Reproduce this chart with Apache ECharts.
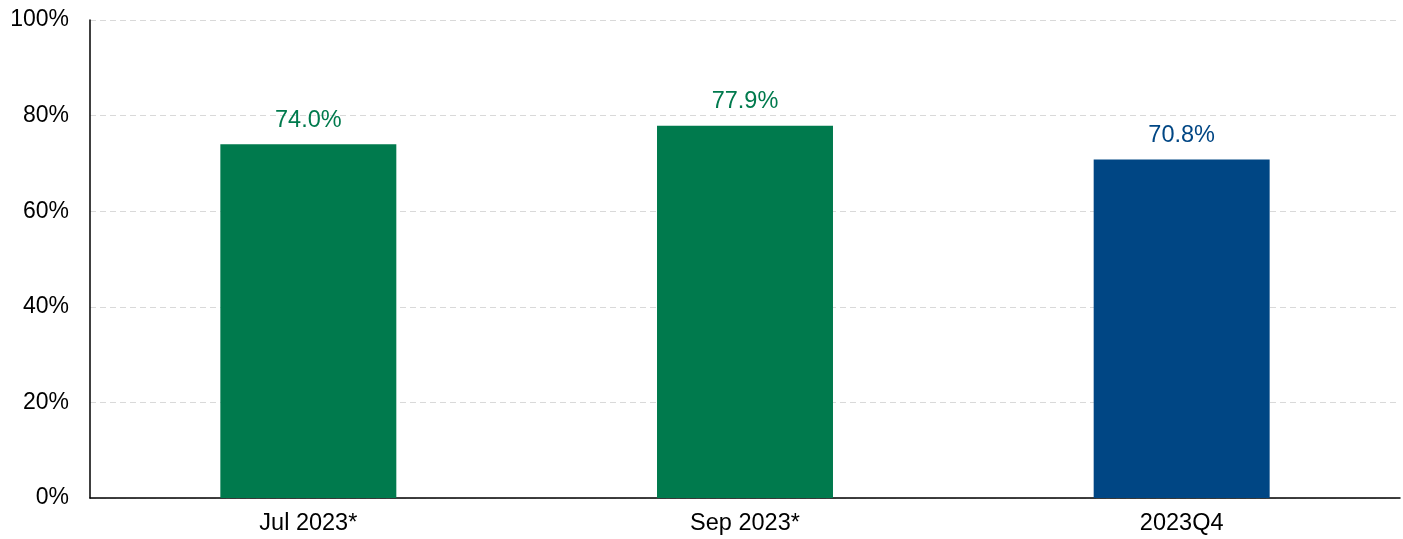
<!DOCTYPE html>
<html>
<head>
<meta charset="utf-8">
<script src="https://cdn.jsdelivr.net/npm/echarts@6/dist/echarts.min.js"></script>
<style>html,body{margin:0;padding:0;background:#fff}#c{width:1403px;height:539px}</style>
</head>
<body>
<div id="c"></div>
<script>
const categories = ['Jul 2023*', 'Sep 2023*', '2023Q4'];
const values = [74.0, 77.9, 70.8];
const barColors = ['#007A4D', '#007A4D', '#004684'];
const yTicks = [0, 20, 40, 60, 80, 100];

const chart = echarts.init(document.getElementById('c'));
chart.setOption({
  animation: false,
  textStyle: { fontFamily: 'Liberation Sans, Arial, sans-serif' },
  grid: { left: 90, right: 3, top: 20, bottom: 41, containLabel: false },
  xAxis: {
    type: 'category',
    data: categories,
    axisLine: { lineStyle: { color: '#000', width: 1.5 } },
    axisTick: { show: false },
    axisLabel: { color: '#000', fontSize: 23.5, margin: 14 }
  },
  yAxis: {
    type: 'value',
    min: yTicks[0],
    max: yTicks[yTicks.length - 1],
    interval: 20,
    axisLine: { show: true, lineStyle: { color: '#000', width: 1.5 } },
    axisTick: { show: false },
    axisLabel: { color: '#000', fontSize: 23, margin: 21, formatter: v => v + '%' },
    splitLine: { lineStyle: { color: '#d9d9d9', type: [6, 4] } }
  },
  series: [{
    type: 'bar',
    barWidth: '40.3%',
    data: values.map((v, i) => ({
      value: v,
      itemStyle: { color: barColors[i] },
      label: { color: barColors[i] }
    })),
    label: {
      show: true,
      position: 'top',
      distance: 12,
      fontSize: 23.5,
      formatter: p => p.value.toFixed(1) + '%'
    }
  }]
});
</script>
</body>
</html>
